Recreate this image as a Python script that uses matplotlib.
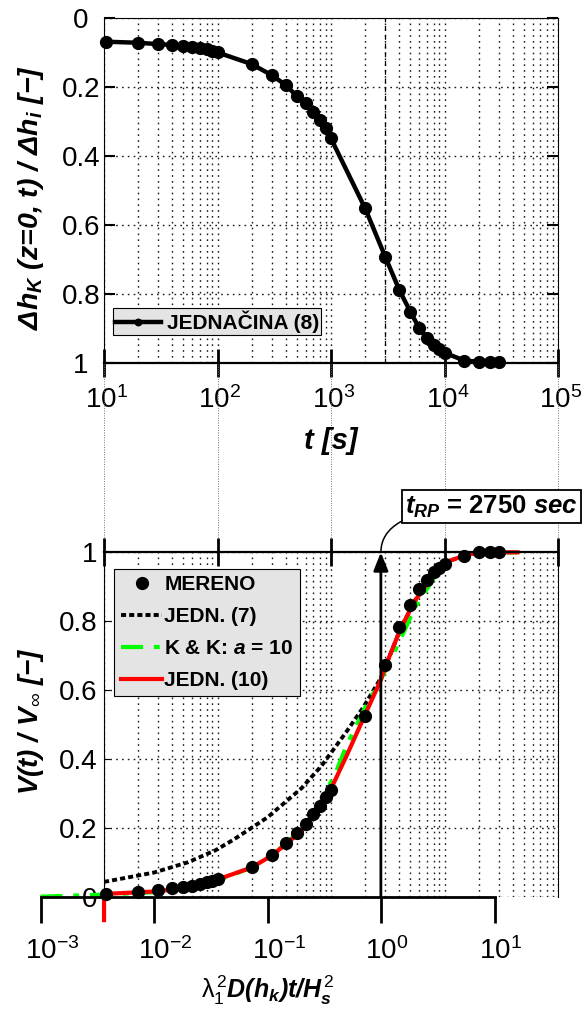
import matplotlib
matplotlib.use('Agg')
import matplotlib.pyplot as plt
import numpy as np
from matplotlib.ticker import FixedLocator, NullLocator, NullFormatter
from matplotlib.transforms import ScaledTranslation

plt.rcParams['font.family'] = 'Liberation Sans'
plt.rcParams['mathtext.fontset'] = 'custom'
plt.rcParams['mathtext.rm'] = 'Liberation Sans'
plt.rcParams['mathtext.it'] = 'Liberation Sans:italic:bold'
plt.rcParams['mathtext.bf'] = 'Liberation Sans:bold'

# --- measured times [s] ---
t = [10.5, 20, 30, 40, 50, 60, 70, 80, 90, 100, 200, 300, 400, 500, 600, 700, 800, 900, 1000,
     2000, 3000, 4000, 5000, 6000, 7000, 8000, 9000, 10000, 15000, 20000, 25000, 30000]

# pressure head drop at the surface, JEDNACINA (8)
dh = [0.068, 0.071, 0.075, 0.077, 0.081, 0.084, 0.087, 0.090, 0.094, 0.099, 0.133, 0.165, 0.194,
      0.226, 0.247, 0.271, 0.295, 0.319, 0.349, 0.552, 0.692, 0.789, 0.852, 0.900, 0.929, 0.949,
      0.961, 0.971, 0.994, 0.997, 0.998, 0.998]

# measured outflow volume V(t)/Vinf
v_meas = [0.008, 0.015, 0.020, 0.025, 0.028, 0.032, 0.037, 0.042, 0.047, 0.052, 0.085, 0.120, 0.155,
          0.185, 0.210, 0.240, 0.264, 0.289, 0.311, 0.524, 0.673, 0.783, 0.848, 0.893, 0.920, 0.943,
          0.955, 0.966, 0.988, 1.000, 1.000, 1.000]

t_rp = 2750  # time at which dimensionless time = 1

# model curves vs dimensionless time
lam_j7 = [0.00364, 0.01, 0.02, 0.035, 0.05, 0.1, 0.2, 0.3, 0.5, 0.7, 1.0, 1.5, 2, 3, 4, 6, 10, 16]
v_j7 = [0.043, 0.07, 0.10, 0.135, 0.165, 0.23, 0.315, 0.38, 0.48, 0.55, 0.635, 0.78, 0.86, 0.94,
        0.975, 0.995, 1.0, 1.0]

lam_kk = [0.001, 0.00364, 0.01, 0.02, 0.0364, 0.073, 0.11, 0.2, 0.3, 0.4, 0.5, 0.73, 1.0, 1.5, 2,
          3, 4, 6, 10, 16]
v_kk = [0.0, 0.006, 0.013, 0.024, 0.047, 0.085, 0.12, 0.195, 0.28, 0.36, 0.44, 0.55, 0.63, 0.75,
        0.84, 0.93, 0.97, 0.995, 1.0, 1.0]

lam_j10 = [0.00364, 0.00364, 0.01, 0.02, 0.0364, 0.073, 0.11, 0.2, 0.3, 0.36, 0.5, 0.73, 1.0, 1.1,
           1.5, 2, 3, 4, 6, 10, 16]
v_j10 = [-0.068, 0.008, 0.015, 0.025, 0.05, 0.085, 0.12, 0.19, 0.265, 0.31, 0.41, 0.53, 0.63, 0.67,
         0.78, 0.86, 0.94, 0.975, 0.995, 1.0, 1.0]

yticks = [0, 0.2, 0.4, 0.6, 0.8, 1]
ytick_labels = ['0', '0.2', '0.4', '0.6', '0.8', '1']
t_major = [1e1, 1e2, 1e3, 1e4, 1e5]
t_minor = [k * 10.0**e for e in range(1, 5) for k in range(2, 10)]
t_labels = [r'$\mathregular{10^{%d}}$' % e for e in range(1, 6)]
lam_major = [1e-3, 1e-2, 1e-1, 1e0, 1e1]
lam_labels = [r'$\mathregular{10^{%d}}$' % e for e in range(-3, 2)]

W, H = 582, 1009
fig = plt.figure(figsize=(W / 100, H / 100), dpi=100)

grid_kw = dict(color='0.1', linestyle=(0, (1.2, 3.0)), linewidth=1.0)
TICK_FS = 20


def shift_labels(labels, dx_px):
    # keep the "10" of each label centred on its tick
    for lab in labels:
        lab.set_horizontalalignment('left')
        lab.set_transform(lab.get_transform() + ScaledTranslation(dx_px / 100, 0, fig.dpi_scale_trans))


# --- TOP: head drop vs time ---
ax_t = fig.add_axes([104 / W, 1 - 362.7 / H, 454 / W, 344.4 / H])
ax_t.set_xscale('log')
ax_t.set_xlim(1e1, 1e5)
ax_t.set_ylim(1, 0)
ax_t.xaxis.set_major_locator(FixedLocator(t_major))
ax_t.xaxis.set_minor_locator(FixedLocator(t_minor))
ax_t.xaxis.set_minor_formatter(NullFormatter())
ax_t.set_xticklabels(t_labels)
ax_t.set_yticks(yticks)
ax_t.set_yticklabels(ytick_labels)
ax_t.grid(True, axis='x', which='both', **grid_kw)
ax_t.grid(True, axis='y', which='major', **grid_kw)
ax_t.set_axisbelow(True)
ax_t.axvline(3000, color='k', linestyle=(0, (4, 3)), linewidth=0.9, zorder=1)

ax_t.plot(t, dh, color='black', lw=3.2, marker='o', ms=8.5, clip_on=False, zorder=3,
          label='JEDNAČINA (8)')

ax_t.tick_params(axis='x', which='major', direction='inout', length=20, width=2,
                 labelsize=TICK_FS, pad=7)
ax_t.tick_params(axis='x', which='minor', length=0)
ax_t.tick_params(axis='y', which='major', direction='in', length=8, width=1.5,
                 left=True, right=True, labelsize=TICK_FS, pad=16.5)
for lab in ax_t.get_yticklabels():
    lab.set_horizontalalignment('center')
shift_labels(ax_t.get_xticklabels(), -19)
for s in ['top', 'left', 'right']:
    ax_t.spines[s].set_linewidth(0.8)
ax_t.spines['bottom'].set_linewidth(1.6)

# dotted decade lines running down to the lower plot
for xt in t_major:
    ax_t.axvline(xt, ymin=-0.551, ymax=0, color='0.45', linestyle=(0, (1, 1.5)),
                 linewidth=0.7, clip_on=False)

leg_t = ax_t.legend(loc='lower left', bbox_to_anchor=(0.019, 0.080), borderaxespad=0,
                    prop={'weight': 'bold', 'size': 15}, facecolor='#e4e4e4', edgecolor='black',
                    framealpha=1, fancybox=False, borderpad=0.1, handlelength=2.2,
                    handletextpad=0.3, markerscale=0.55)
leg_t.get_frame().set_linewidth(0.8)

fig.text(331 / W, 1 - 441 / H, 't [s]', ha='center', va='center', fontsize=21,
         fontweight='bold', style='italic')
fig.text(31 / W, 1 - 198 / H, 'Δh$_K$ (z=0, t) / Δh$_i$ [−]', ha='center', va='center',
         rotation=90, fontsize=20.5, fontweight='bold', style='italic')

# --- BOTTOM: outflow volume vs dimensionless time ---
ax_b = fig.add_axes([104 / W, 1 - 896.7 / H, 454 / W, 344.4 / H])
ax_b.set_xscale('log')
ax_b.set_xlim(1e1 / t_rp, 1e5 / t_rp)
ax_b.set_ylim(0, 1)
ax_b.xaxis.tick_top()
ax_b.xaxis.set_major_locator(FixedLocator([v / t_rp for v in t_major]))
ax_b.xaxis.set_minor_locator(FixedLocator([v / t_rp for v in t_minor]))
ax_b.xaxis.set_major_formatter(NullFormatter())
ax_b.xaxis.set_minor_formatter(NullFormatter())
ax_b.set_yticks(yticks)
ax_b.set_yticklabels(ytick_labels)
ax_b.grid(True, axis='x', which='both', **grid_kw)
ax_b.grid(True, axis='y', which='major', **grid_kw)
ax_b.set_axisbelow(True)
ax_b.tick_params(axis='x', which='major', direction='inout', length=20, width=2)
ax_b.tick_params(axis='x', which='minor', length=0)
ax_b.tick_params(axis='y', which='major', direction='in', length=4, width=0.8,
                 labelsize=TICK_FS, pad=4.5)
ax_b.spines['bottom'].set_visible(False)
for s in ['left', 'right']:
    ax_b.spines[s].set_linewidth(0.8)
ax_b.spines['top'].set_linewidth(1.6)

lam_meas = np.array(t) / t_rp
h_j7, = ax_b.plot(lam_j7, v_j7, color='black', lw=2.8, linestyle=(0, (1.3, 0.8)), zorder=2)
h_kk, = ax_b.plot(lam_kk, v_kk, color='#00ff00', lw=3, linestyle=(0, (5.3, 2.6, 1.4, 2.6)),
                  clip_on=False, zorder=2)
h_j10, = ax_b.plot(lam_j10, v_j10, color='#ff0000', lw=3, clip_on=False, zorder=2.5)
h_m, = ax_b.plot(lam_meas, v_meas, 'o', color='black', ms=8.5, clip_on=False, zorder=3)

leg_b = ax_b.legend([h_m, h_j7, h_kk, h_j10],
                    ['MERENO', 'JEDN. (7)', 'K & K: $a$ = 10', 'JEDN. (10)'],
                    loc='upper left', bbox_to_anchor=(0.023, 0.9515), borderaxespad=0,
                    prop={'weight': 'bold', 'size': 15}, facecolor='#e4e4e4', edgecolor='black',
                    framealpha=1, fancybox=False, borderpad=0.3, handlelength=2.0,
                    handletextpad=0.1, labelspacing=0.62, numpoints=1)
leg_b.get_frame().set_linewidth(0.8)

# vertical arrow at t_RP and its label
ax_b.annotate('', xy=(1.0, 1.0), xytext=(1.0, 0.0), annotation_clip=False,
              arrowprops=dict(arrowstyle='-|>,head_length=0.55,head_width=0.22', lw=2,
                              color='black', shrinkA=0, shrinkB=0, mutation_scale=20))
ax_b.annotate(r'$t_{RP}$ = 2750 $\mathit{sec}$', xy=(1.0, 1.0), xycoords='data',
              xytext=(405 / W, 1 - 506.5 / H), textcoords='figure fraction',
              ha='left', va='center', fontsize=18.5, fontweight='bold', annotation_clip=False,
              bbox=dict(boxstyle='square,pad=0.13', fc='white', ec='black', lw=1.3),
              arrowprops=dict(arrowstyle='-', connectionstyle='angle3,angleA=0,angleB=90',
                              lw=1.1, color='black', shrinkA=0, shrinkB=0))

# dimensionless-time axis under the lower plot
ax_l = fig.add_axes([40.7 / W, 1 - 896.7 / H, 454.3 / W, 344.4 / H])
ax_l.patch.set_visible(False)
for s in ['top', 'left', 'right']:
    ax_l.spines[s].set_visible(False)
ax_l.spines['bottom'].set_linewidth(2)
ax_l.set_xscale('log')
ax_l.set_xlim(1e-3, 1e1)
ax_l.set_yticks([])
ax_l.xaxis.set_major_locator(FixedLocator(lam_major))
ax_l.xaxis.set_minor_locator(NullLocator())
ax_l.set_xticklabels(lam_labels)
ax_l.tick_params(axis='x', direction='out', length=19, width=2, labelsize=TICK_FS, pad=10)
shift_labels(ax_l.get_xticklabels(), -16)

fig.text(31 / W, 1 - 721 / H, 'V(t) / V$_\\infty$ [−]', ha='center', va='center', rotation=90,
         fontsize=20, fontweight='bold', style='italic')
fig.text(268 / W, 1 - 990 / H, r'$\mathrm{\lambda}_1^{\,2}$D(h$_k$)t/H$_s^{\,2}$', ha='center',
         va='center', fontsize=18, fontweight='bold', style='italic')

fig.savefig('out.png', dpi=100)
